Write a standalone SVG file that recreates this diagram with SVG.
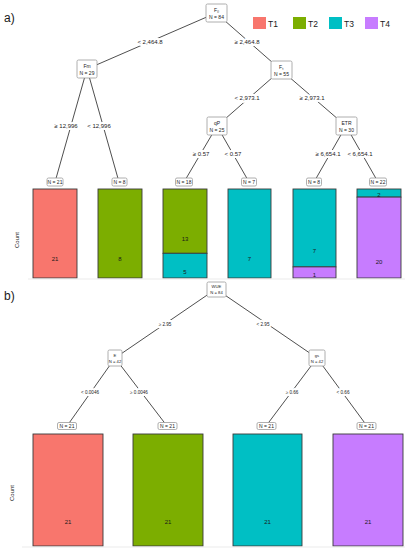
<svg xmlns="http://www.w3.org/2000/svg" width="408" height="550" viewBox="0 0 408 550">
<style>
text{font-family:"Liberation Sans",Arial,sans-serif;fill:#1a1a1a}
.edge{stroke:#222;stroke-width:0.8;fill:none}
.nb{fill:#fff;stroke:#9a9a9a;stroke-width:0.8}
.nt{font-size:5px;text-anchor:middle}
.ntb{font-size:4.2px;text-anchor:middle}
.el{font-size:6px;text-anchor:middle;stroke:#fff;stroke-width:4;paint-order:stroke}
.elb{font-size:4.6px;text-anchor:middle;stroke:#fff;stroke-width:4;paint-order:stroke}
.bar{stroke:#3a3a3a;stroke-width:0.9}
.cnt{font-size:6px;text-anchor:middle}
.t1{fill:#F8766D}.t2{fill:#7CAE00}.t3{fill:#00BFC4}.t4{fill:#C77CFF}
.ax{stroke:#ebebeb;stroke-width:1.2}
.lg{font-size:8.5px}
.pl{font-size:12px}
</style>

<text class="pl" x="4" y="22">a)</text>
<text class="pl" x="4" y="300">b)</text>

<g id="legend">
<rect class="t1" x="253" y="17" width="13" height="12"/><text class="lg" x="268" y="26.5">T1</text>
<rect class="t2" x="293" y="17" width="13" height="12"/><text class="lg" x="308" y="26.5">T2</text>
<rect class="t3" x="329" y="17" width="13" height="12"/><text class="lg" x="344" y="26.5">T3</text>
<rect class="t4" x="365" y="17" width="13" height="12"/><text class="lg" x="380" y="26.5">T4</text>
</g>

<g id="connectors">
<line class="edge" x1="216" y1="13" x2="87" y2="69"/>
<line class="edge" x1="216" y1="13" x2="281" y2="70"/>
<line class="edge" x1="87" y1="69" x2="55" y2="182"/>
<line class="edge" x1="87" y1="69" x2="119" y2="182"/>
<line class="edge" x1="281" y1="70" x2="217" y2="126"/>
<line class="edge" x1="281" y1="70" x2="346" y2="126"/>
<line class="edge" x1="217" y1="126" x2="184" y2="182"/>
<line class="edge" x1="217" y1="126" x2="249" y2="182"/>
<line class="edge" x1="346" y1="126" x2="314" y2="182"/>
<line class="edge" x1="346" y1="126" x2="378" y2="182"/>
<text class="el" x="150" y="44">&lt; 2,464.8</text>
<text class="el" x="247" y="44">≥ 2,464.8</text>
<text class="el" x="66" y="128">≥ 12,996</text>
<text class="el" x="99" y="128">&lt; 12,996</text>
<text class="el" x="247" y="100">&lt; 2,973.1</text>
<text class="el" x="312" y="100">≥ 2,973.1</text>
<text class="el" x="201" y="156">≥ 0.57</text>
<text class="el" x="233" y="156">&lt; 0.57</text>
<text class="el" x="328" y="156">≥ 6,654.1</text>
<text class="el" x="360" y="156">&lt; 6,654.1</text>

<line class="edge" x1="216" y1="289" x2="115" y2="358"/>
<line class="edge" x1="216" y1="289" x2="317" y2="358"/>
<line class="edge" x1="115" y1="358" x2="67" y2="426"/>
<line class="edge" x1="115" y1="358" x2="167" y2="426"/>
<line class="edge" x1="317" y1="358" x2="266" y2="426"/>
<line class="edge" x1="317" y1="358" x2="367" y2="426"/>
<text class="elb" x="165" y="325.5">≥ 2.95</text>
<text class="elb" x="263" y="325.5">&lt; 2.95</text>
<text class="elb" x="90" y="393.5">&lt; 0.0046</text>
<text class="elb" x="139" y="393.5">≥ 0.0046</text>
<text class="elb" x="292" y="393.5">≥ 0.66</text>
<text class="elb" x="343" y="393.5">&lt; 0.66</text>
</g>

<g id="n_root_a"><rect class="nb" x="206" y="4" width="21" height="18" rx="1.5"/><text class="nt" x="216.5" y="11.5">F₀</text><text class="nt" x="216.5" y="18.5">N = 84</text></g>
<g id="n_fm"><rect class="nb" x="77" y="60" width="20" height="18" rx="1.5"/><text class="nt" x="87" y="67.5">Fm</text><text class="nt" x="87" y="74.5">N = 29</text></g>
<g id="n_fs"><rect class="nb" x="271" y="61" width="21" height="18" rx="1.5"/><text class="nt" x="281.5" y="68.5">Fₛ</text><text class="nt" x="281.5" y="75.5">N = 55</text></g>
<g id="n_qp"><rect class="nb" x="207" y="117" width="20" height="18" rx="1.5"/><text class="nt" x="217" y="124.5">qP</text><text class="nt" x="217" y="131.5">N = 25</text></g>
<g id="n_etr"><rect class="nb" x="336" y="117" width="21" height="18" rx="1.5"/><text class="nt" x="346.5" y="124.5">ETR</text><text class="nt" x="346.5" y="131.5">N = 30</text></g>

<g id="leaf_a1"><rect class="nb" x="47" y="178" width="16" height="8" rx="1.5"/><text class="nt" x="55" y="183.8">N = 21</text>
<rect class="bar t1" x="33" y="189" width="44" height="89"/><text class="cnt" x="55" y="261">21</text></g>
<g id="leaf_a2"><rect class="nb" x="112" y="178" width="15" height="8" rx="1.5"/><text class="nt" x="119.5" y="183.8">N = 8</text>
<rect class="bar t2" x="98" y="189" width="44" height="89"/><text class="cnt" x="120" y="261">8</text></g>
<g id="leaf_a3"><rect class="nb" x="175.5" y="178" width="17" height="8" rx="1.5"/><text class="nt" x="184" y="183.8">N = 18</text>
<rect class="bar t2" x="163" y="189" width="44" height="64.3"/><rect class="bar t3" x="163" y="253.3" width="44" height="24.7"/>
<text class="cnt" x="185" y="241">13</text><text class="cnt" x="185" y="274">5</text></g>
<g id="leaf_a4"><rect class="nb" x="241.5" y="178" width="15" height="8" rx="1.5"/><text class="nt" x="249" y="183.8">N = 7</text>
<rect class="bar t3" x="228" y="189" width="43" height="89"/><text class="cnt" x="249.5" y="261">7</text></g>
<g id="leaf_a5"><rect class="nb" x="306.5" y="178" width="15" height="8" rx="1.5"/><text class="nt" x="314" y="183.8">N = 8</text>
<rect class="bar t3" x="293" y="189" width="43" height="77.9"/><rect class="bar t4" x="293" y="266.9" width="43" height="11.1"/>
<text class="cnt" x="314.5" y="253">7</text><text class="cnt" x="314.5" y="276.5">1</text></g>
<g id="leaf_a6"><rect class="nb" x="369.5" y="178" width="17" height="8" rx="1.5"/><text class="nt" x="378" y="183.8">N = 22</text>
<rect class="bar t3" x="357" y="189" width="44" height="8.1"/><rect class="bar t4" x="357" y="197.1" width="44" height="80.9"/>
<text class="cnt" x="379" y="197">2</text><text class="cnt" x="379" y="264">20</text></g>
<line class="ax" x1="28" y1="279" x2="405" y2="279"/>
<text class="cnt" x="19" y="240" transform="rotate(-90 19 240)">Count</text>

<g id="n_root_b"><rect class="nb" x="207" y="282" width="19" height="15" rx="1.5"/><text class="ntb" x="216.5" y="288">WUE</text><text class="ntb" x="216.5" y="294">N = 84</text></g>
<g id="n_e"><rect class="nb" x="108" y="350" width="14" height="16" rx="1.5"/><text class="ntb" x="115" y="356.5">E</text><text class="ntb" x="115" y="362.5">N = 42</text></g>
<g id="n_gs"><rect class="nb" x="309" y="350" width="16" height="16" rx="1.5"/><text class="ntb" x="317" y="356.5">gs</text><text class="ntb" x="317" y="362.5">N = 42</text></g>

<g id="leaf_b1"><rect class="nb" x="57.5" y="422.5" width="19" height="7" rx="1.5"/><text class="nt" x="67" y="427.8">N = 21</text>
<rect class="bar t1" x="33" y="434" width="70" height="112"/><text class="cnt" x="68" y="524">21</text></g>
<g id="leaf_b2"><rect class="nb" x="158" y="422.5" width="19" height="7" rx="1.5"/><text class="nt" x="167.5" y="427.8">N = 21</text>
<rect class="bar t2" x="133" y="434" width="70" height="112"/><text class="cnt" x="168" y="524">21</text></g>
<g id="leaf_b3"><rect class="nb" x="257" y="422.5" width="19" height="7" rx="1.5"/><text class="nt" x="266.5" y="427.8">N = 21</text>
<rect class="bar t3" x="233" y="434" width="69" height="112"/><text class="cnt" x="267.5" y="524">21</text></g>
<g id="leaf_b4"><rect class="nb" x="357" y="422.5" width="19" height="7" rx="1.5"/><text class="nt" x="366.5" y="427.8">N = 21</text>
<rect class="bar t4" x="333" y="434" width="70" height="112"/><text class="cnt" x="368" y="524">21</text></g>
<line class="ax" x1="22" y1="547" x2="405" y2="547"/>
<text class="cnt" x="14" y="493" transform="rotate(-90 14 493)">Count</text>
</svg>
